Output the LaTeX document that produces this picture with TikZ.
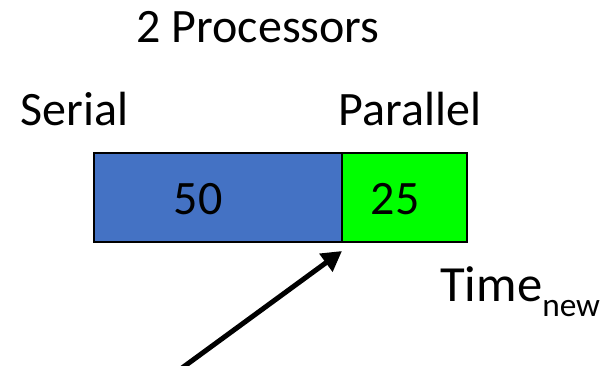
\documentclass[tikz,border=0pt]{standalone}
\usepackage{fontspec}
\setmainfont{Carlito}
\usepackage{tikz}
\usetikzlibrary{arrows.meta, positioning}
\definecolor{serialblue}{HTML}{4472C4}
\definecolor{parallelgreen}{HTML}{00FF00}

\begin{document}
\begin{tikzpicture}[x=0.75pt,y=-0.75pt,
 bar node/.style={rectangle,draw=black,line width=1.5pt,inner sep=0pt,outer sep=0pt,minimum height=66.75pt},
 text node/.style={font=\fontsize{36}{43}\selectfont,inner sep=0pt,anchor=base}]
  \useasboundingbox (0,0) rectangle (610,366);
  \node[bar node, fill=serialblue, minimum width=186pt] (serial) at (218,197.5) {};
  \node[bar node, fill=parallelgreen, minimum width=93.75pt] (parallel) [right=0pt of serial] {};

  \node[text node] (title) at (258,43) {2 Processors};
  \node[text node] (seriallabel) at (74.5,126) {Serial};
  \node[text node] (parallellabel) at (410,126) {Parallel};
  \node[text node] (serialtime) at (198,215) {50};
  \node[text node] (paralleltime) at (395,215) {25};
  \node[text node, font=\fontsize{38}{46}\selectfont, anchor=base west] (newtime) at (440,302)
    {Time\raisebox{-11pt}{\fontsize{25}{30}\selectfont new}};

  \coordinate (tail) at (182,368);
  \coordinate (tip) at ([yshift=-6.75pt]serial.south east);
  \draw[line width=3.75pt, -{Triangle[length=15pt,width=16pt]}] (tail) -- (tip);
\end{tikzpicture}
\end{document}
